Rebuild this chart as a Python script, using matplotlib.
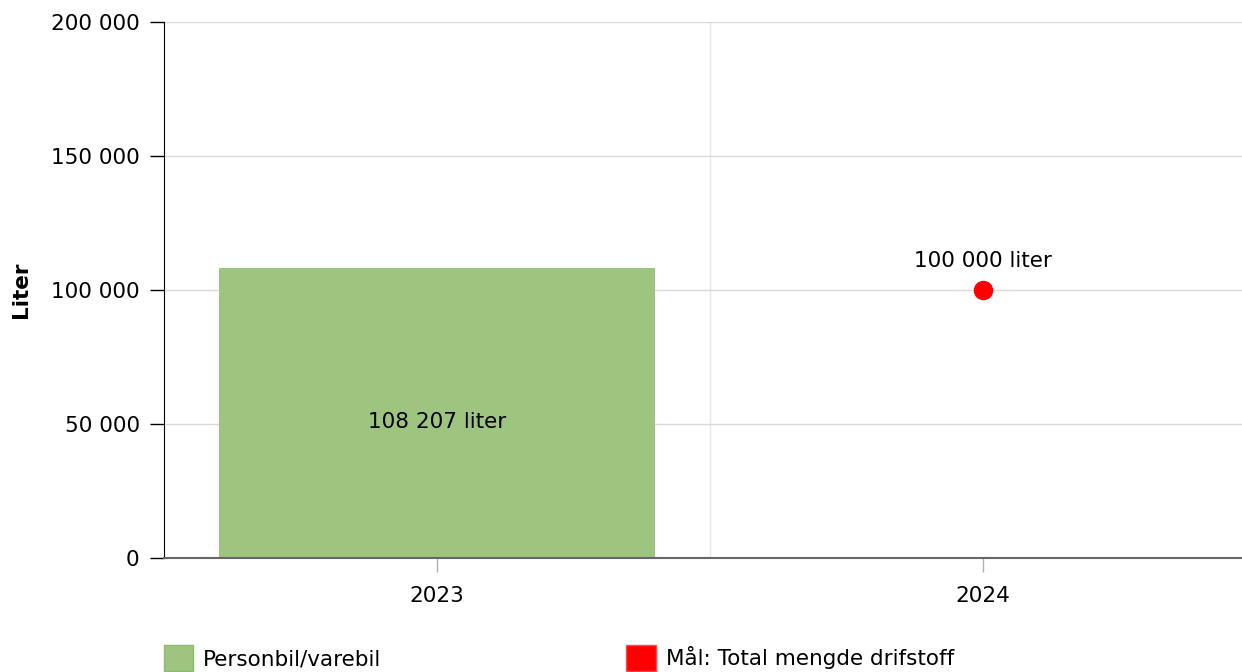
import matplotlib
matplotlib.use("Agg")
import matplotlib.pyplot as plt
from matplotlib.patches import Patch

categories = ["2023", "2024"]
bar_values = [108207, None]
target_values = [None, 100000]
bar_label = "108 207 liter"
target_label = "100 000 liter"
yticks = [0, 50000, 100000, 150000, 200000]
ytick_labels = ["0", "50 000", "100 000", "150 000", "200 000"]
series_names = ["Personbil/varebil", "Mål: Total mengde drifstoff"]

plt.rcParams['font.family'] = ['DejaVu Sans']
FS = 15.5

fig = plt.figure(figsize=(12.42, 6.72), dpi=100)
ax = fig.add_axes([164/1242, 114/672, 1 - 164/1242, 536/672])

x = list(range(len(categories)))
bx = [i for i, v in zip(x, bar_values) if v is not None]
bv = [v for v in bar_values if v is not None]
ax.bar(bx, bv, width=0.8, color="#9dc57f", edgecolor="none", zorder=2)
for xi, v in zip(bx, bv):
    ax.annotate(bar_label, (xi, v / 2), xytext=(0, -9), textcoords="offset pixels",
                ha="center", va="center", fontsize=FS, color="black", zorder=4)

tx = [i for i, v in zip(x, target_values) if v is not None]
tv = [v for v in target_values if v is not None]
ax.plot(tx, tv, linestyle="none", marker="o", markersize=13, color="#ff0000", zorder=3)
for xi, v in zip(tx, tv):
    ax.annotate(target_label, (xi, v), xytext=(0, 29), textcoords="offset pixels",
                ha="center", va="center", fontsize=FS, color="black", zorder=4)

ax.set_ylim(0, 200000)
ax.set_xlim(-0.5, 1.474)
ax.set_yticks(yticks)
ax.set_yticklabels(ytick_labels, fontsize=FS)
ax.set_xticks(x)
ax.set_xticklabels(categories, fontsize=FS)
ax.yaxis.grid(True, color="#d9d9d9", linewidth=1, zorder=0)
ax.set_axisbelow(True)
ax.axvline(0.5, color="#e6e6e6", linewidth=1, zorder=0)

for s in ["top", "right"]:
    ax.spines[s].set_visible(False)
ax.spines["left"].set_color("black")
ax.spines["bottom"].set_color("#666666")
ax.spines["bottom"].set_linewidth(1.5)
ax.tick_params(axis="y", length=10, width=1, color="black", pad=7.5)
ax.tick_params(axis="x", length=10, width=1, color="#b0b0b0", pad=10)

ax.set_ylabel("Liter", fontsize=FS, fontweight="bold")
ax.yaxis.set_label_coords(-133/1078, 0.5)

handles = [Patch(facecolor="#9dc57f", edgecolor="#8cbb6c"),
           Patch(facecolor="#ff0000", edgecolor="#ff4d4d")]
fig.legend(handles, series_names, loc="lower left", bbox_to_anchor=(155/1242, -0.012),
           ncol=2, frameon=False, fontsize=FS, handlelength=1.35, handleheight=1.5,
           handletextpad=0.47, columnspacing=11.4, borderaxespad=0)

fig.savefig("out.png", dpi=100)
